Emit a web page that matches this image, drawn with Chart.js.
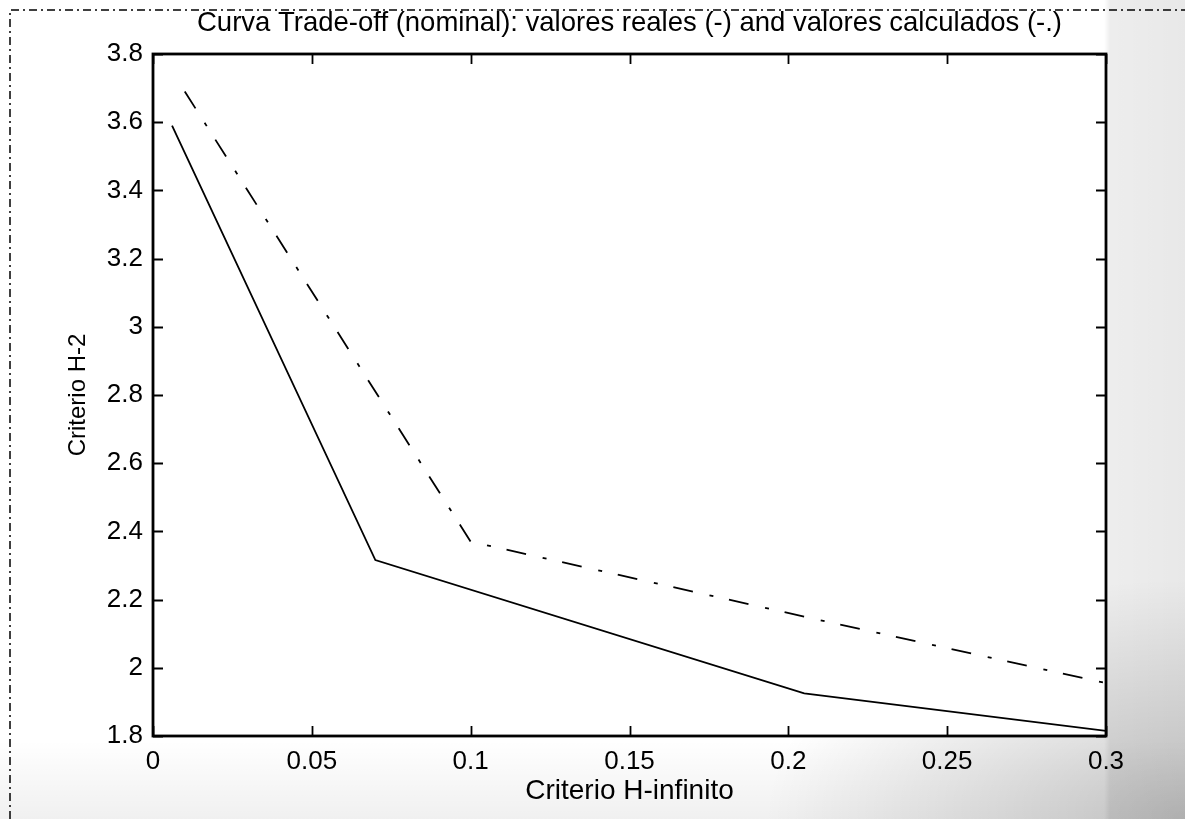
<!DOCTYPE html>
<html>
<head>
<meta charset="utf-8">
<title>Curva Trade-off (nominal)</title>
<script src="https://cdn.jsdelivr.net/npm/chart.js@4.4.1/dist/chart.umd.min.js"></script>
<style>
  html, body { margin: 0; padding: 0; }
  body {
    width: 1185px;
    height: 819px;
    overflow: hidden;
    background:
      radial-gradient(ellipse 420px 240px at 1185px 819px, rgba(0,0,0,0.2), rgba(0,0,0,0) 100%),
      linear-gradient(to right, rgba(0,0,0,0) 1104px, rgba(0,0,0,0.07) 1110px, rgba(0,0,0,0.09) 1185px),
      linear-gradient(to bottom, rgba(0,0,0,0) 740px, rgba(0,0,0,0.06) 819px),
      #fff;
  }
  canvas { display: block; }
</style>
</head>
<body>
<canvas id="chart" width="1185" height="819"></canvas>
<script>
// valores reales (linea continua)
const hInfReal = [0.006, 0.07, 0.205, 0.3];
const h2Real = [3.59, 2.316, 1.925, 1.815];
// valores calculados (linea -.)
const hInfCalc = [0.01, 0.1, 0.205, 0.3];
const h2Calc = [3.69, 2.37, 2.15, 1.955];

const xTickValues = [0, 0.05, 0.1, 0.15, 0.2, 0.25, 0.3];
const xTickLabels = ["0", "0.05", "0.1", "0.15", "0.2", "0.25", "0.3"];
const yTickValues = [1.8, 2, 2.2, 2.4, 2.6, 2.8, 3, 3.2, 3.4, 3.6, 3.8];
const yTickLabels = ["1.8", "2", "2.2", "2.4", "2.6", "2.8", "3", "3.2", "3.4", "3.6", "3.8"];

const toPoints = (xs, ys) => xs.map((x, i) => ({ x: x, y: ys[i] }));

Chart.defaults.font.family = "'Liberation Sans', Arial, sans-serif";
Chart.defaults.color = "#000";

// white axes box, figure border and inward ticks on all four sides
const axesBox = {
  id: "axesBox",
  beforeDraw(chart) {
    const { ctx, chartArea: a } = chart;
    ctx.save();
    ctx.fillStyle = "#fff";
    ctx.fillRect(a.left, a.top, a.right - a.left, a.bottom - a.top);
    ctx.strokeStyle = "#000";
    ctx.lineWidth = 1.5;
    ctx.setLineDash([8, 4, 2, 4]);
    ctx.beginPath();
    ctx.moveTo(10, chart.height);
    ctx.lineTo(10, 10);
    ctx.lineTo(chart.width, 10);
    ctx.stroke();
    ctx.restore();
  },
  afterDatasetsDraw(chart) {
    const { ctx, chartArea: a, scales } = chart;
    const len = 10;
    ctx.save();
    ctx.strokeStyle = "#000";
    ctx.lineWidth = 1.8;
    ctx.beginPath();
    scales.x.ticks.forEach((t) => {
      const px = Math.round(scales.x.getPixelForValue(t.value)) + 0.5;
      ctx.moveTo(px, a.bottom);
      ctx.lineTo(px, a.bottom - len);
      ctx.moveTo(px, a.top);
      ctx.lineTo(px, a.top + len);
    });
    scales.y.ticks.forEach((t) => {
      const py = Math.round(scales.y.getPixelForValue(t.value)) + 0.5;
      ctx.moveTo(a.left, py);
      ctx.lineTo(a.left + len, py);
      ctx.moveTo(a.right, py);
      ctx.lineTo(a.right - len, py);
    });
    ctx.stroke();
    ctx.lineWidth = 2.8;
    ctx.strokeRect(a.left, a.top, a.right - a.left, a.bottom - a.top);
    ctx.restore();
  },
};

new Chart(document.getElementById("chart"), {
  type: "scatter",
  data: {
    datasets: [
      {
        label: "valores reales",
        data: toPoints(hInfReal, h2Real),
        showLine: true,
        borderColor: "#000",
        borderWidth: 1.8,
        pointRadius: 0,
      },
      {
        label: "valores calculados",
        data: toPoints(hInfCalc, h2Calc),
        showLine: true,
        borderColor: "#000",
        borderWidth: 1.8,
        borderDash: [20, 17, 4, 16],
        pointRadius: 0,
      },
    ],
  },
  options: {
    responsive: false,
    animation: false,
    devicePixelRatio: 1,
    layout: { padding: { left: 0, right: 79, top: 0, bottom: 0 } },
    plugins: {
      legend: { display: false },
      tooltip: { enabled: false },
      title: {
        display: true,
        fullSize: false,
        text: "Curva Trade-off (nominal): valores reales (-) and valores calculados (-.)",
        color: "#000",
        font: { size: 27.5, weight: "normal", lineHeight: 1.2 },
        padding: { top: 7, bottom: 14 },
      },
    },
    scales: {
      x: {
        type: "linear",
        min: 0,
        max: 0.3,
        afterBuildTicks: (s) => { s.ticks = xTickValues.map((v) => ({ value: v })); },
        afterFit: (s) => { s.height = 83; },
        grid: { display: false, drawTicks: false },
        border: { display: false },
        ticks: {
          padding: 10,
          font: { size: 26 },
          callback: (v, i) => xTickLabels[i],
        },
        title: {
          display: true,
          text: "Criterio H-infinito",
          font: { size: 28, lineHeight: 1.2 },
          padding: { top: 0, bottom: 11 },
        },
      },
      y: {
        type: "linear",
        min: 1.8,
        max: 3.8,
        afterBuildTicks: (s) => { s.ticks = yTickValues.map((v) => ({ value: v })); },
        afterFit: (s) => { s.width = 153; },
        grid: { display: false, drawTicks: false },
        border: { display: false },
        ticks: {
          padding: 10,
          font: { size: 26 },
          callback: (v, i) => yTickLabels[i],
        },
        title: {
          display: true,
          text: "Criterio H-2",
          font: { size: 24, lineHeight: 1.2 },
          padding: { top: 63.6, bottom: 0 },
        },
      },
    },
  },
  plugins: [axesBox],
});
</script>
</body>
</html>
